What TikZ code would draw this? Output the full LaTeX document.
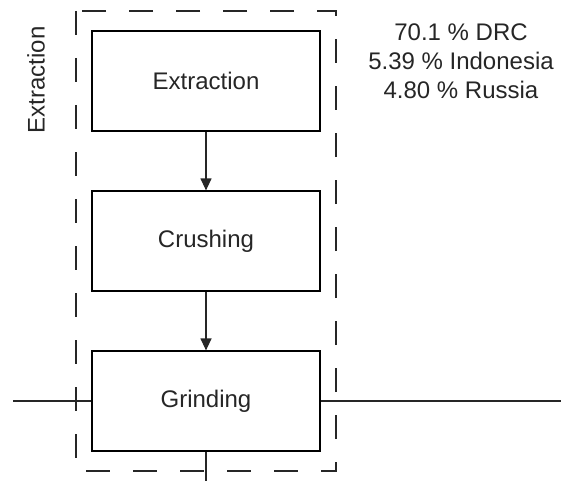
\documentclass[tikz,border=0pt]{standalone}
\usepackage{fontspec}
\setmainfont{Liberation Sans}
\usetikzlibrary{arrows.meta}
\begin{document}
\begin{tikzpicture}[x=1pt,y=-1pt,
  every node/.style={font=\fontsize{24}{29}\selectfont, text=black!85},
  procbox/.style={draw, line width=1.2pt, minimum width=228pt, minimum height=100pt, inner sep=0pt},
  conn/.style={line width=1.2pt, draw=black!85},
  arr/.style={conn, -{Triangle[length=12pt,width=11pt]}},
  grp/.style={draw=black!85, line width=1.4pt, dash pattern=on 24pt off 23pt}]
\useasboundingbox (0,0) rectangle (561,481);
\draw[grp] (76,11) rectangle (336,471);
\node[procbox] (ext) at (206,81) {Extraction};
\node[procbox] (cru) at (206,241) {Crushing};
\node[procbox] (gri) at (206,401) {Grinding};
\draw[arr] (ext) -- (cru);
\draw[arr] (cru) -- (gri);
\coordinate (lin) at (13,401);
\coordinate (rout) at (561,401);
\coordinate (dout) at (206,481);
\draw[conn] (lin) -- (gri.west);
\draw[conn] (gri.east) -- (rout);
\draw[conn] (gri.south) -- (dout);
\node[rotate=90] (lab) at (36,80) {Extraction};
\node[align=center] (pct) at (461,61) {70.1 \% DRC\\5.39 \% Indonesia\\4.80 \% Russia};
\end{tikzpicture}
\end{document}
